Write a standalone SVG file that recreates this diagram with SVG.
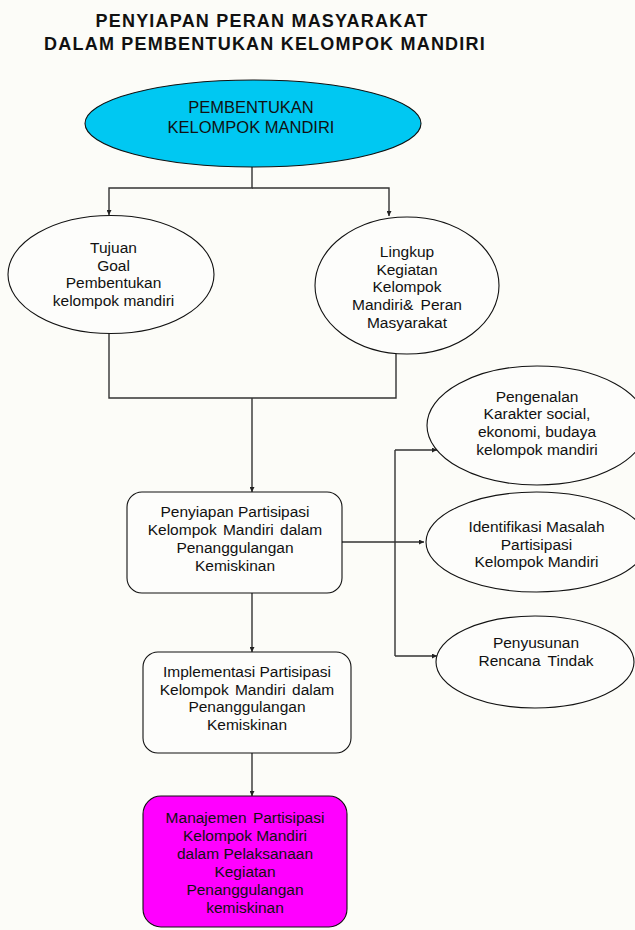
<svg xmlns="http://www.w3.org/2000/svg" width="635" height="930" viewBox="0 0 635 930">
<defs>
<style>
.bg{fill:#fcfcf8}
.t{font-family:"Liberation Sans",Arial,sans-serif;font-size:15.5px;fill:#111;text-anchor:middle}
.title{font-family:"Liberation Sans",Arial,sans-serif;font-size:18px;font-weight:bold;fill:#111;text-anchor:middle;letter-spacing:1.2px}
.node{stroke:#111;stroke-width:1.1}
.w{fill:#fdfdfb}
.c{fill:none;stroke:#333;stroke-width:1.4}
</style>
<marker id="ah" viewBox="0 0 10 10" refX="10" refY="5" markerWidth="5" markerHeight="5" markerUnits="userSpaceOnUse" orient="auto">
<path d="M0,0 L10,5 L0,10 Z" fill="#222"/>
</marker>
</defs>
<rect class="bg" x="0" y="0" width="635" height="930"/>
<g id="title">
<text class="title" x="262" y="26.5">PENYIAPAN PERAN MASYARAKAT</text>
<text class="title" x="265" y="50">DALAM PEMBENTUKAN KELOMPOK MANDIRI</text>
</g>
<g id="connectors">
<path class="c" d="M252,167 V188 H109 V215" marker-end="url(#ah)"/>
<path class="c" d="M252,188 H389 V216" marker-end="url(#ah)"/>
<path class="c" d="M109,333 V398 H396 V354"/>
<path class="c" d="M252,398 V492" marker-end="url(#ah)"/>
<path class="c" d="M342,542 H424" marker-end="url(#ah)"/>
<path class="c" d="M395,450 V656"/>
<path class="c" d="M395,450 H437" marker-end="url(#ah)"/>
<path class="c" d="M395,656 H437" marker-end="url(#ah)"/>
<path class="c" d="M252,593 V652" marker-end="url(#ah)"/>
<path class="c" d="M252,753 V796" marker-end="url(#ah)"/>
</g>
<g id="pembentukan">
<ellipse class="node" cx="253" cy="123.5" rx="168" ry="43.5" fill="#00c8f2"/>
<text class="t" style="font-size:16.5px" x="251" y="113.3">PEMBENTUKAN</text>
<text class="t" style="font-size:16.5px" x="251" y="133.3">KELOMPOK MANDIRI</text>
</g>
<g id="tujuan">
<ellipse class="node w" cx="111" cy="274.5" rx="103" ry="59"/>
<text class="t" x="113.5" y="253">Tujuan</text>
<text class="t" x="113.5" y="270.7">Goal</text>
<text class="t" x="113.5" y="288.4">Pembentukan</text>
<text class="t" x="113.5" y="306">kelompok mandiri</text>
</g>
<g id="lingkup">
<ellipse class="node w" cx="407" cy="285.5" rx="92" ry="68.5"/>
<text class="t" x="407" y="257">Lingkup</text>
<text class="t" x="407" y="274.7">Kegiatan</text>
<text class="t" x="407" y="292.4">Kelompok</text>
<text class="t" x="407" y="310.1" word-spacing="3">Mandiri&amp; Peran</text>
<text class="t" x="407" y="327.8">Masyarakat</text>
</g>
<g id="pengenalan">
<ellipse class="node w" cx="537" cy="425.5" rx="110" ry="59.5"/>
<text class="t" x="537" y="401.5">Pengenalan</text>
<text class="t" x="537" y="419.2">Karakter social,</text>
<text class="t" x="537" y="436.9">ekonomi, budaya</text>
<text class="t" x="537" y="454.6">kelompok mandiri</text>
</g>
<g id="identifikasi">
<ellipse class="node w" cx="536.5" cy="542" rx="110.5" ry="50"/>
<text class="t" x="536.5" y="532">Identifikasi Masalah</text>
<text class="t" x="536.5" y="549.5">Partisipasi</text>
<text class="t" x="536.5" y="567">Kelompok Mandiri</text>
</g>
<g id="penyusunan">
<ellipse class="node w" cx="535" cy="662" rx="99" ry="46"/>
<text class="t" x="536" y="648">Penyusunan</text>
<text class="t" x="536" y="665.5" word-spacing="3">Rencana Tindak</text>
</g>
<g id="penyiapan">
<rect class="node w" x="127" y="492" width="215" height="101" rx="15"/>
<text class="t" x="235" y="517">Penyiapan Partisipasi</text>
<text class="t" x="235" y="535" word-spacing="2">Kelompok Mandiri dalam</text>
<text class="t" x="235" y="553">Penanggulangan</text>
<text class="t" x="235" y="571">Kemiskinan</text>
</g>
<g id="implementasi">
<rect class="node w" x="143" y="652" width="208" height="101" rx="15"/>
<text class="t" x="247" y="677">Implementasi Partisipasi</text>
<text class="t" x="247" y="694.5" word-spacing="2">Kelompok Mandiri dalam</text>
<text class="t" x="247" y="712">Penanggulangan</text>
<text class="t" x="247" y="729.5">Kemiskinan</text>
</g>
<g id="manajemen">
<rect class="node" x="143" y="796" width="204" height="131" rx="18" fill="#ff00ff"/>
<text class="t" x="245" y="823" word-spacing="2">Manajemen Partisipasi</text>
<text class="t" x="245" y="841">Kelompok Mandiri</text>
<text class="t" x="245" y="859">dalam Pelaksanaan</text>
<text class="t" x="245" y="877">Kegiatan</text>
<text class="t" x="245" y="895">Penanggulangan</text>
<text class="t" x="245" y="913">kemiskinan</text>
</g>
</svg>
